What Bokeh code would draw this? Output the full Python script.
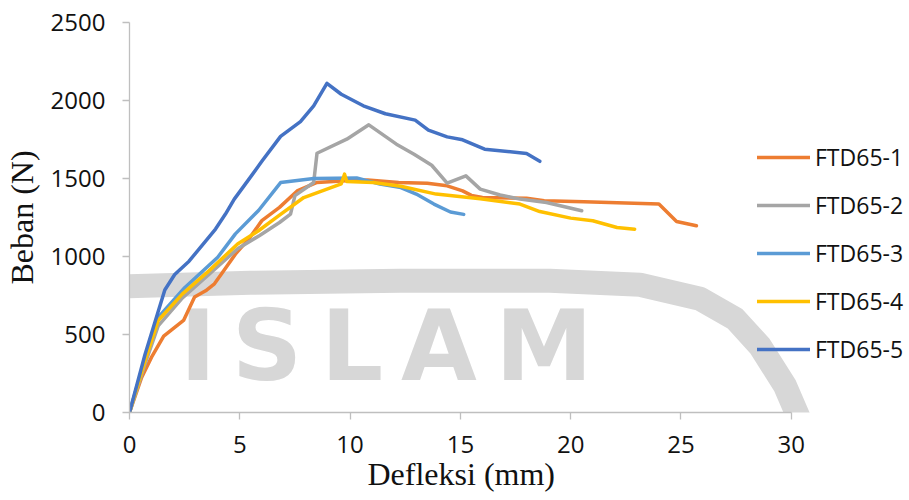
from bokeh.plotting import figure
from bokeh.models import FixedTicker, Legend, LegendItem, Range1d, Title
from bokeh.core.properties import value
from bokeh.embed import file_html
from bokeh.resources import INLINE

# Load-deflection curves of the five FTD65 specimens
ftd1_x = [0, 0.55, 1.0, 1.55, 2.45, 2.95, 3.45, 3.85, 4.15, 4.8, 5.45, 6.0, 6.8, 7.6, 8.5,
          9.8, 10.8, 12.2, 13.5, 14.4, 15.1, 15.5, 16.0, 18.0, 18.8, 20.6, 24.0, 24.8, 25.7]
ftd1_y = [0, 225, 355, 490, 590, 740, 780, 825, 885, 1015, 1120, 1230, 1315, 1420, 1475,
          1485, 1490, 1474, 1470, 1453, 1421, 1392, 1378, 1374, 1357, 1351, 1336, 1224, 1197]

ftd2_x = [0, 0.7, 1.3, 2.4, 3.6, 4.9, 5.9, 6.8, 7.3, 7.5, 8.35, 8.5, 9.85, 10.85, 12.1,
          12.9, 13.7, 14.4, 15.25, 15.9, 16.8, 17.7, 18.9, 20.5]
ftd2_y = [0, 310, 555, 735, 885, 1050, 1135, 1218, 1272, 1390, 1474, 1662, 1752, 1844, 1720,
          1656, 1585, 1470, 1517, 1432, 1394, 1368, 1346, 1293]

ftd3_x = [0, 0.7, 1.3, 2.5, 4.0, 4.8, 5.85, 6.85, 8.35, 10.3, 11.35, 12.3, 13.0, 13.8, 14.55, 15.15]
ftd3_y = [0, 345, 610, 800, 995, 1145, 1295, 1474, 1500, 1504, 1464, 1442, 1400, 1336, 1285, 1270]

ftd4_x = [0, 0.7, 1.3, 2.4, 3.6, 4.9, 5.85, 6.8, 7.9, 9.6, 9.75, 9.85, 11.05, 12.3, 13.9,
          15.9, 17.7, 18.6, 20.0, 21.0, 22.1, 22.9]
ftd4_y = [0, 330, 590, 760, 908, 1080, 1165, 1265, 1378, 1466, 1528, 1481, 1474, 1450, 1400,
          1370, 1336, 1288, 1246, 1229, 1186, 1175]

ftd5_x = [0, 0.7, 1.6, 2.05, 2.7, 3.9, 4.35, 4.75, 5.25, 6.0, 6.85, 7.75, 8.35, 8.95, 9.6,
          10.6, 11.6, 12.95, 13.55, 14.4, 15.1, 16.1, 18.0, 18.6]
ftd5_y = [0, 370, 785, 885, 970, 1176, 1272, 1368, 1464, 1610, 1770, 1865, 1966, 2110, 2040,
          1966, 1915, 1874, 1810, 1767, 1748, 1688, 1660, 1610]

series_names = ["FTD65-1", "FTD65-2", "FTD65-3", "FTD65-4", "FTD65-5"]
series_x = [ftd1_x, ftd2_x, ftd3_x, ftd4_x, ftd5_x]
series_y = [ftd1_y, ftd2_y, ftd3_y, ftd4_y, ftd5_y]
series_colors = ["#ED7D31", "#A5A5A5", "#5B9BD5", "#FFC000", "#4472C4"]

x_ticks = [0, 5, 10, 15, 20, 25, 30]
y_ticks = [0, 500, 1000, 1500, 2000, 2500]

# Background watermark (page stamp) geometry, in axis units
stamp_band_x = [-1, 5.47, 12.27, 19.06, 23.14, 25.86, 27.45, 28.58, 29.72, 30.4, 31.0]
stamp_band_y = [805, 831, 844, 844, 819, 729, 601, 426, 170, -53, -300]
stamp_letters = ["I", "S", "L", "A", "M"]
stamp_letter_x = [3.11, 6.24, 10.09, 14.03, 18.79]
stamp_letter_y = [427, 427, 427, 427, 427]

# The frame runs past x = 30 so the legend can sit at the right-hand edge;
# the x axis itself is bounded to 0..30.
p = figure(width=909, height=500, output_backend="svg", toolbar_location=None,
           x_range=Range1d(0, 35.36), y_range=Range1d(0, 2500),
           min_border_left=129, min_border_right=0, min_border_top=22, min_border_bottom=88)
p.outline_line_color = None
p.background_fill_color = "white"
p.border_fill_color = "white"
p.xgrid.visible = False
p.ygrid.visible = False

stamp_color = "#D7D7D7"
p.line(stamp_band_x, stamp_band_y, line_color=stamp_color, line_width=24, line_join="round")
p.text(x=stamp_letter_x, y=stamp_letter_y, text=stamp_letters, text_color=stamp_color,
       text_font=value("DejaVu Sans"), text_font_style="bold", text_font_size="98px",
       text_align="center", text_baseline="alphabetic")

items = []
for name, xs, ys, col in zip(series_names, series_x, series_y, series_colors):
    r = p.line(xs, ys, line_color=col, line_width=3.5, line_join="round", line_cap="round")
    items.append(LegendItem(label=name, renderers=[r]))

legend = Legend(items=items, location=(628, 40), orientation="vertical",
                glyph_width=53, glyph_height=46, label_height=46, spacing=2,
                label_standoff=5, padding=0, margin=0,
                border_line_alpha=0, background_fill_alpha=0,
                label_text_font="Open Sans", label_text_font_size="23px",
                label_text_color="#111111")
p.add_layout(legend)

for ax in (p.xaxis[0], p.yaxis[0]):
    ax.axis_line_color = "#BFBFBF"
    ax.axis_line_width = 1.3
    ax.major_tick_line_color = "#BFBFBF"
    ax.major_tick_line_width = 1.3
    ax.major_tick_out = 7
    ax.major_tick_in = 0
    ax.minor_tick_line_color = None
    ax.major_label_text_font = "Open Sans"
    ax.major_label_text_font_size = "24px"
    ax.major_label_text_color = "#111111"

p.xaxis.ticker = FixedTicker(ticks=x_ticks)
p.yaxis.ticker = FixedTicker(ticks=y_ticks)
p.xaxis.bounds = (0, 30)
p.xaxis.major_label_standoff = 16
p.yaxis.major_label_standoff = 17

p.yaxis.axis_label = "Beban (N)"
p.yaxis.axis_label_text_font = "Liberation Serif"
p.yaxis.axis_label_text_font_size = "32px"
p.yaxis.axis_label_text_font_style = "normal"
p.yaxis.axis_label_text_color = "#111111"
p.yaxis.axis_label_standoff = 8

# x-axis title, centred under the 0..30 span of the axis
x_title = Title(text="Defleksi (mm)", align="left", offset=238, standoff=-3,
                text_font="Liberation Serif", text_font_size="32px",
                text_font_style="normal", text_color="#111111")
p.add_layout(x_title, "below")

open("out.html", "w").write(file_html(p, INLINE))
